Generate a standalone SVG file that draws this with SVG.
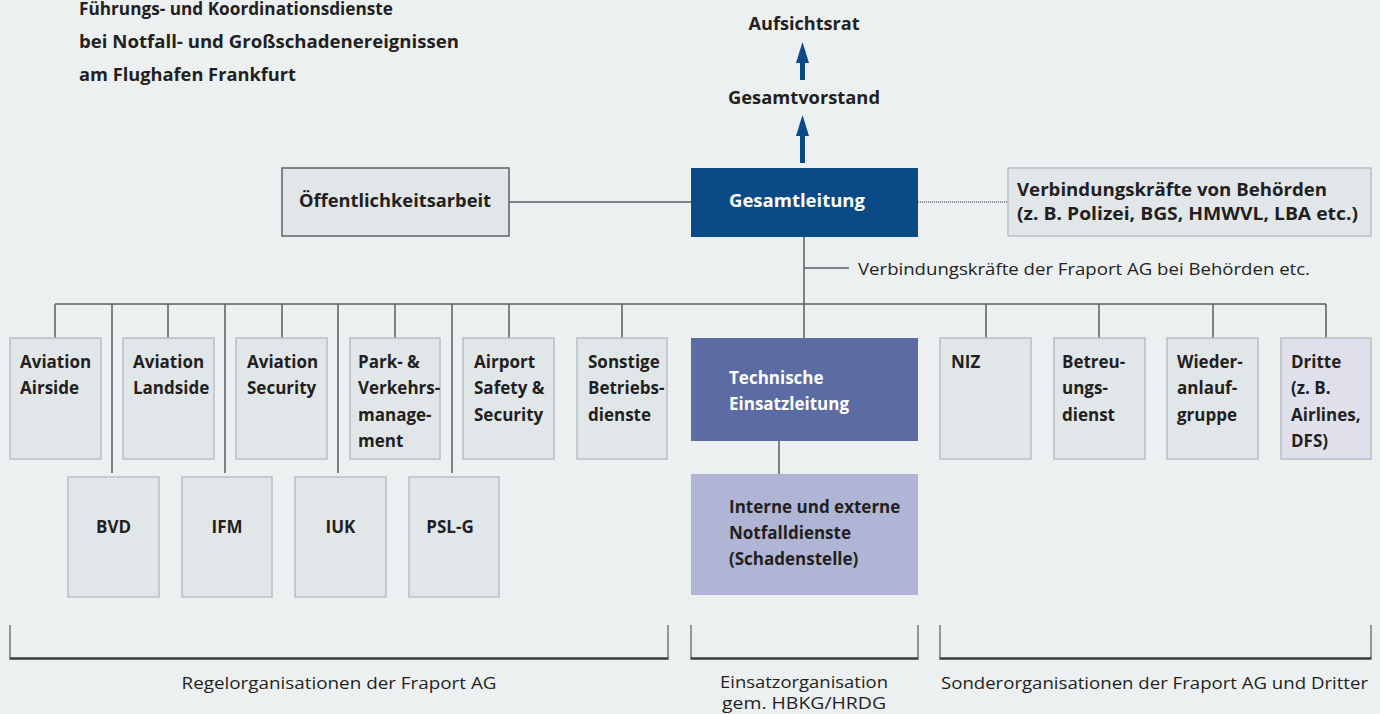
<svg xmlns="http://www.w3.org/2000/svg" width="1380" height="714" viewBox="0 0 1380 714">
<defs>
<style>
.t{font-family:"Open Sans","Noto Sans","Liberation Sans",sans-serif;font-weight:bold;font-size:17px;fill:#231f20}
.w{fill:#ffffff}
.r{font-family:"Open Sans","Noto Sans","Liberation Sans",sans-serif;font-weight:normal;font-size:17px;fill:#231f20}
.s{font-size:16px}
.box{fill:#e1e6e9;stroke:#b7c0c5;stroke-width:1.5}
.ln{stroke:#5a5e60;stroke-width:1.5;fill:none}
.br{stroke:#3a3c3d;fill:none}
</style>
</defs>
<rect width="1380" height="714" fill="#ecf0f1"/>
<g id="title">
<text class="t" x="79" y="15" textLength="314" lengthAdjust="spacingAndGlyphs">Führungs- und Koordinationsdienste</text>
<text class="t" x="79" y="48" textLength="380" lengthAdjust="spacingAndGlyphs">bei Notfall- und Großschadenereignissen</text>
<text class="t" x="79" y="81" textLength="217" lengthAdjust="spacingAndGlyphs">am Flughafen Frankfurt</text>
</g>
<g id="connectors">
<line x1="802.5" y1="80" x2="802.5" y2="62" stroke="#0a4a87" stroke-width="5"/>
<path d="M796,63 L802.5,42 L809,63 Z" fill="#0a4a87"/>
<line x1="802.5" y1="163" x2="802.5" y2="135" stroke="#0a4a87" stroke-width="5"/>
<path d="M796,136 L802.5,115 L809,136 Z" fill="#0a4a87"/>
<line class="ln" x1="509" y1="202" x2="691" y2="202"/>
<line x1="918" y1="202" x2="1008" y2="202" stroke="#6a6e70" stroke-width="1.5" stroke-dasharray="1,1"/>
<line class="ln" x1="804" y1="237" x2="804" y2="338"/>
<line class="ln" x1="804" y1="268" x2="849" y2="268"/>
<line class="ln" x1="55" y1="304" x2="1326" y2="304"/>
<path class="ln" d="M55,304V338 M168,304V338 M282,304V338 M395,304V338 M509,304V338 M622,304V338 M986,304V338 M1099,304V338 M1213,304V338 M1326,304V338"/>
<path class="ln" d="M112,304V473 M225,304V473 M338,304V473 M452,304V473"/>
<line class="ln" x1="779" y1="441" x2="779" y2="474"/>
</g>
<g id="aufsichtsrat"><text class="t" x="804" y="30" text-anchor="middle" textLength="111" lengthAdjust="spacingAndGlyphs">Aufsichtsrat</text></g>
<g id="gesamtvorstand"><text class="t" x="804" y="104" text-anchor="middle" textLength="152" lengthAdjust="spacingAndGlyphs">Gesamtvorstand</text></g>
<g id="gesamtleitung">
<rect x="691" y="168" width="227" height="69" fill="#0a4a87"/>
<text class="t w" x="729" y="207" textLength="136" lengthAdjust="spacingAndGlyphs">Gesamtleitung</text>
</g>
<g id="oeffentlichkeitsarbeit">
<rect x="282" y="168" width="227" height="68" fill="#e1e6e9" stroke="#5f6365" stroke-width="1.5"/>
<text class="t" x="299" y="207" textLength="192" lengthAdjust="spacingAndGlyphs">Öffentlichkeitsarbeit</text>
</g>
<g id="verbindungskraefte-behoerden">
<rect class="box" x="1008" y="168" width="363" height="68"/>
<text class="t" x="1017" y="196" textLength="310" lengthAdjust="spacingAndGlyphs">Verbindungskräfte von Behörden</text>
<text class="t" x="1017" y="220" textLength="341" lengthAdjust="spacingAndGlyphs">(z. B. Polizei, BGS, HMWVL, LBA etc.)</text>
</g>
<g id="verbindungskraefte-fraport">
<text class="r" x="858" y="275" textLength="452" lengthAdjust="spacingAndGlyphs">Verbindungskräfte der Fraport AG bei Behörden etc.</text>
</g>
<g id="aviation-airside">
<rect class="box" x="10" y="338" width="91" height="121"/>
<text class="t" x="20" y="368">Aviation</text><text class="t" x="20" y="394">Airside</text>
</g>
<g id="aviation-landside">
<rect class="box" x="123" y="338" width="91" height="121"/>
<text class="t" x="133" y="368">Aviation</text><text class="t" x="133" y="394">Landside</text>
</g>
<g id="aviation-security">
<rect class="box" x="236" y="338" width="91" height="121"/>
<text class="t" x="247" y="368">Aviation</text><text class="t" x="247" y="394">Security</text>
</g>
<g id="park-verkehrsmanagement">
<rect class="box" x="350" y="338" width="90" height="121"/>
<text class="t" x="358" y="368">Park- &amp;</text><text class="t" x="358" y="394">Verkehrs-</text><text class="t" x="358" y="421">manage-</text><text class="t" x="358" y="447">ment</text>
</g>
<g id="airport-safety-security">
<rect class="box" x="463" y="338" width="91" height="121"/>
<text class="t" x="474" y="368">Airport</text><text class="t" x="474" y="394">Safety &amp;</text><text class="t" x="474" y="421">Security</text>
</g>
<g id="sonstige-betriebsdienste">
<rect class="box" x="577" y="338" width="90" height="121"/>
<text class="t" x="588" y="368">Sonstige</text><text class="t" x="588" y="394">Betriebs-</text><text class="t" x="588" y="421">dienste</text>
</g>
<g id="bvd"><rect class="box" x="68" y="477" width="91" height="120"/><text class="t" x="113.5" y="533" text-anchor="middle">BVD</text></g>
<g id="ifm"><rect class="box" x="182" y="477" width="90" height="120"/><text class="t" x="227" y="533" text-anchor="middle">IFM</text></g>
<g id="iuk"><rect class="box" x="295" y="477" width="91" height="120"/><text class="t" x="340.5" y="533" text-anchor="middle">IUK</text></g>
<g id="psl-g"><rect class="box" x="409" y="477" width="90" height="120"/><text class="t" x="450" y="533" text-anchor="middle">PSL-G</text></g>
<g id="technische-einsatzleitung">
<rect x="691" y="338" width="227" height="103" fill="#5b6ba3"/>
<text class="t w" x="729" y="384">Technische</text><text class="t w" x="729" y="410">Einsatzleitung</text>
</g>
<g id="notfalldienste">
<rect x="691" y="474" width="227" height="121" fill="#b0b5d5"/>
<text class="t" x="729" y="513">Interne und externe</text><text class="t" x="729" y="539">Notfalldienste</text><text class="t" x="729" y="565">(Schadenstelle)</text>
</g>
<g id="niz"><rect class="box" x="940" y="338" width="91" height="121"/><text class="t" x="951" y="368">NIZ</text></g>
<g id="betreuungsdienst">
<rect class="box" x="1054" y="338" width="91" height="121"/>
<text class="t" x="1062" y="368">Betreu-</text><text class="t" x="1062" y="394">ungs-</text><text class="t" x="1062" y="421">dienst</text>
</g>
<g id="wiederanlaufgruppe">
<rect class="box" x="1167" y="338" width="91" height="121"/>
<text class="t" x="1177" y="368">Wieder-</text><text class="t" x="1177" y="394">anlauf-</text><text class="t" x="1177" y="421">gruppe</text>
</g>
<g id="dritte">
<rect x="1281" y="338" width="90" height="121" fill="#e0e0ec" stroke="#b7c0c5" stroke-width="1.5"/>
<text class="t" x="1291" y="368">Dritte</text><text class="t" x="1291" y="394">(z. B.</text><text class="t" x="1291" y="421">Airlines,</text><text class="t" x="1291" y="447">DFS)</text>
</g>
<g id="brackets">
<path class="br" stroke-width="1" d="M10,625V658 M668,625V658 M691,625V658 M918,625V658 M940,625V658 M1371,625V658"/>
<path class="br" stroke-width="2.5" d="M9.5,658.5H668.5 M690.5,658.5H918.5 M939.5,658.5H1371.5"/>
<text class="r" x="339" y="689" text-anchor="middle" textLength="315" lengthAdjust="spacingAndGlyphs">Regelorganisationen der Fraport AG</text>
<text class="r s" x="804" y="688" text-anchor="middle" textLength="168" lengthAdjust="spacingAndGlyphs">Einsatzorganisation</text>
<text class="r s" x="804" y="709" text-anchor="middle" textLength="164" lengthAdjust="spacingAndGlyphs">gem. HBKG/HRDG</text>
<text class="r" x="1154.5" y="689" text-anchor="middle" textLength="427" lengthAdjust="spacingAndGlyphs">Sonderorganisationen der Fraport AG und Dritter</text>
</g>
</svg>
